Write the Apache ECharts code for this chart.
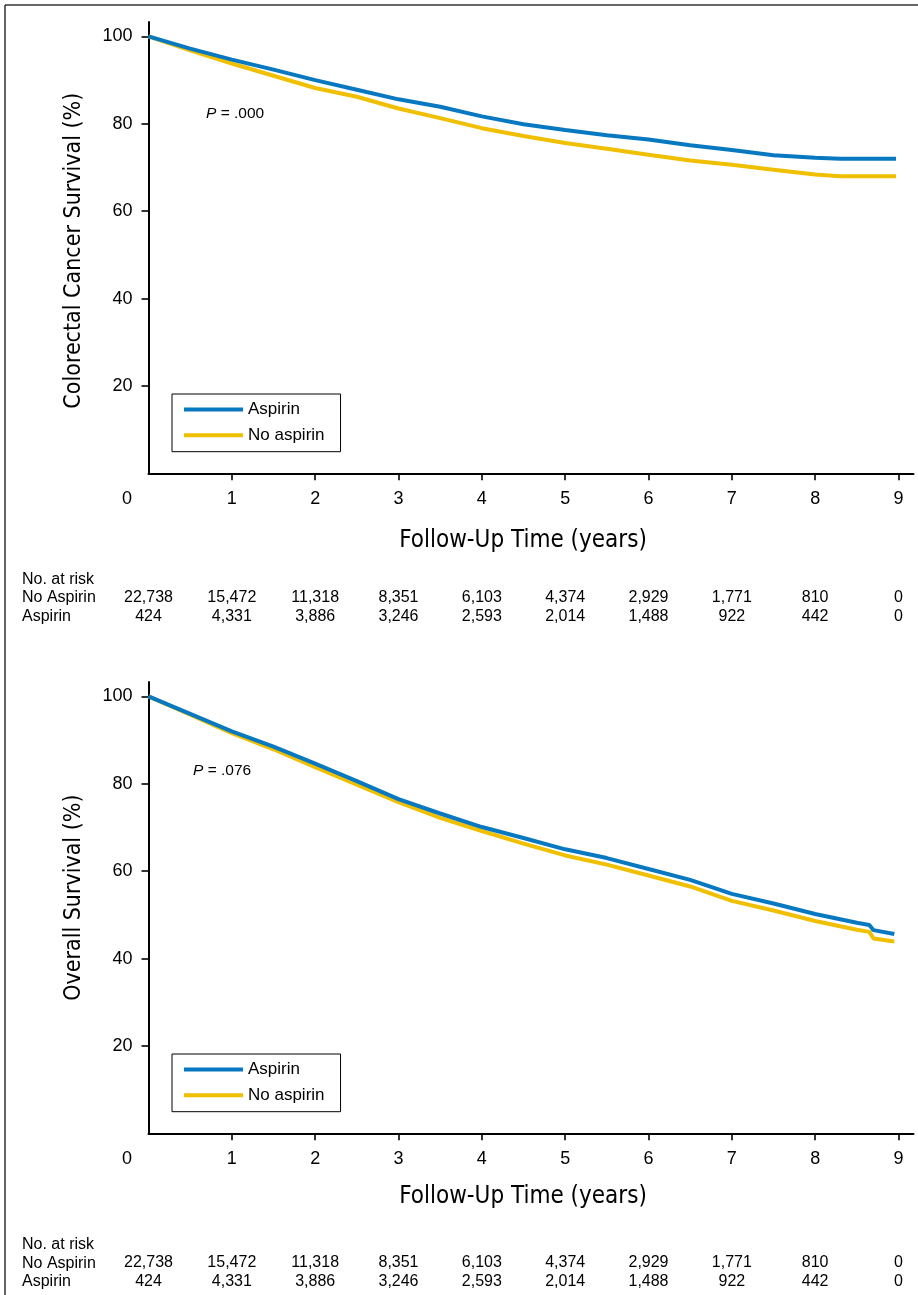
<!DOCTYPE html>
<html>
<head>
<meta charset="utf-8">
<script src="https://cdn.jsdelivr.net/npm/echarts@6/dist/echarts.min.js"></script>
<style>
html,body{margin:0;padding:0;background:#fff;}
#chart{width:918px;height:1295px;}
</style>
</head>
<body>
<div id="chart"></div>
<script>
// ---- Data ----
const crcTimes     = [0, 0.5, 1, 1.5, 2, 2.5, 3, 3.5, 4, 4.5, 5, 5.5, 6, 6.5, 7, 7.5, 8, 8.3, 8.97];
const crcAspirin   = [100, 97.2, 94.7, 92.4, 90.0, 87.8, 85.6, 83.9, 81.7, 79.9, 78.6, 77.4, 76.4, 75.1, 74.0, 72.8, 72.2, 72.0, 72.0];
const crcNoAspirin = [100, 96.8, 93.8, 91.0, 88.2, 86.2, 83.5, 81.3, 79.0, 77.2, 75.6, 74.3, 72.9, 71.6, 70.6, 69.5, 68.4, 68.0, 68.0];

const osTimes      = [0, 0.5, 1, 1.5, 2, 2.5, 3, 3.5, 4, 4.5, 5, 5.5, 6, 6.5, 7, 7.5, 8, 8.5, 8.65, 8.7, 8.95];
const osAspirin    = [100, 96.0, 92.0, 88.5, 84.6, 80.6, 76.5, 73.2, 70.1, 67.6, 65.0, 63.0, 60.5, 58.0, 54.8, 52.6, 50.2, 48.2, 47.7, 46.5, 45.6];
const osNoAspirin  = [100, 95.8, 91.6, 87.9, 83.8, 79.8, 75.8, 72.2, 69.2, 66.3, 63.6, 61.5, 59.0, 56.5, 53.2, 51.0, 48.6, 46.6, 46.1, 44.6, 43.9];

const xTickLabels  = [0, 1, 2, 3, 4, 5, 6, 7, 8, 9];
const xTicks       = [1, 2, 3, 4, 5, 6, 7, 8, 9];
const yTicks       = [20, 40, 60, 80, 100];

const riskNoAspirin = ['22,738', '15,472', '11,318', '8,351', '6,103', '4,374', '2,929', '1,771', '810', '0'];
const riskAspirin   = ['424', '4,331', '3,886', '3,246', '2,593', '2,014', '1,488', '922', '442', '0'];

const panelTitles = ['Colorectal Cancer Survival (%)', 'Overall Survival (%)'];
const pValues = ['.000', '.076'];
const seriesNames = ['Aspirin', 'No aspirin'];

// ---- Styles ----
const SANS = "'Liberation Sans', Arial, Helvetica, sans-serif";
const NARROW = "'Liberation Sans Narrow', 'Arial Narrow', 'DejaVu Sans Condensed', sans-serif";
const BLUE = '#0879c1';
const YELLOW = '#efbf00';
const X_MAX = 9.18, Y_MAX = 103.3;

const chart = echarts.init(document.getElementById('chart'), null, {renderer: 'canvas'});

const grids = [
  {left: 148.5, top: 22, width: 765, height: 451.3},
  {left: 148.5, top: 682, width: 765, height: 451.3}
];
const xNameGap = [55, 51];
const yNamePadding = [[0, 6, 0, 0], [0, 0, 0, 20]];
const riskOffsets = [[124.7, 143.2], [129.7, 148.2]];
const rowLabelTops = [[572, 590, 608.5], [1237, 1255.5, 1273.5]];
const pPos = [[206, 106], [193, 763]];
const legendTops = [394, 1054];

const xAxes = [], yAxes = [], series = [], legends = [], titles = [], graphics = [];
const axisLineStyle = {color: '#000', width: 2};

[0, 1].forEach(g => {
  xAxes.push({
    type: 'value', gridIndex: g, min: 0, max: X_MAX,
    axisLine: {show: true, onZero: false, lineStyle: axisLineStyle},
    axisTick: {show: true, length: 7, customValues: xTicks, lineStyle: {color: '#000', width: 1.6}},
    axisLabel: {
      customValues: xTickLabels, margin: 17, fontSize: 18, color: '#000', fontFamily: SANS,
      formatter: v => v === 0 ? '{z|0}' : String(v),
      rich: {z: {padding: [0, 43, 0, 0], fontSize: 18, color: '#000', fontFamily: SANS}}
    },
    splitLine: {show: false},
    name: 'Follow-Up Time (years)', nameLocation: 'middle', nameGap: xNameGap[g],
    nameTextStyle: {fontSize: 24, fontFamily: NARROW, color: '#000', padding: [0, 16, 0, 0]}
  });
  // risk table rows as offset axes sharing the same time scale
  [riskNoAspirin, riskAspirin].forEach((arr, r) => {
    xAxes.push({
      type: 'value', gridIndex: g, min: 0, max: X_MAX, position: 'bottom', offset: riskOffsets[g][r],
      axisLine: {show: false}, axisTick: {show: false}, splitLine: {show: false},
      axisLabel: {
        customValues: xTickLabels, margin: 0, verticalAlign: 'middle', fontSize: 16,
        color: '#000', fontFamily: SANS, formatter: v => arr[Math.round(v)]
      }
    });
  });
  yAxes.push({
    type: 'value', gridIndex: g, min: 0, max: Y_MAX,
    axisLine: {show: true, lineStyle: axisLineStyle},
    axisTick: {show: true, length: 7, customValues: yTicks, lineStyle: {color: '#000', width: 1.6}},
    axisLabel: {customValues: yTicks, margin: 16, fontSize: 18, color: '#000', fontFamily: SANS},
    splitLine: {show: false},
    name: panelTitles[g], nameLocation: 'middle', nameGap: 63,
    nameTextStyle: {fontSize: 23, fontFamily: NARROW, color: '#000', padding: yNamePadding[g]}
  });
  const times = g === 0 ? crcTimes : osTimes;
  const asp = g === 0 ? crcAspirin : osAspirin;
  const noAsp = g === 0 ? crcNoAspirin : osNoAspirin;
  const xi = g * 3;
  series.push({
    name: seriesNames[1], type: 'line', xAxisIndex: xi, yAxisIndex: g,
    data: times.map((t, i) => [t, noAsp[i]]), symbol: 'none', showSymbol: false,
    lineStyle: {color: YELLOW, width: 4}, itemStyle: {color: YELLOW}, z: 2, animation: false
  });
  series.push({
    name: seriesNames[0], type: 'line', xAxisIndex: xi, yAxisIndex: g,
    data: times.map((t, i) => [t, asp[i]]), symbol: 'none', showSymbol: false,
    lineStyle: {color: BLUE, width: 4}, itemStyle: {color: BLUE}, z: 3, animation: false
  });
  legends.push({
    data: seriesNames, orient: 'vertical', left: 172, top: legendTops[g],
    icon: 'rect', itemWidth: 59, itemHeight: 4, itemGap: 8.7,
    padding: [7, 16, 8, 12], borderColor: '#000', borderWidth: 1, backgroundColor: '#fff',
    textStyle: {fontSize: 17, fontFamily: SANS, color: '#000', lineHeight: 16},
    selectedMode: false
  });
  titles.push({
    text: '{i|P} = ' + pValues[g], left: pPos[g][0], top: pPos[g][1], padding: 0,
    textStyle: {fontSize: 15.5, fontWeight: 'normal', fontFamily: SANS, color: '#000',
      rich: {i: {fontStyle: 'italic', fontSize: 15.5, fontFamily: SANS, color: '#000'}}}
  });
  ['No. at risk', 'No Aspirin', 'Aspirin'].forEach((txt, r) => {
    graphics.push({
      type: 'text', left: 22, top: rowLabelTops[g][r],
      style: {text: txt, font: '16px ' + SANS, fill: '#000'}
    });
  });
});

graphics.push({type: 'line', shape: {x1: 5, y1: 5, x2: 918, y2: 5}, style: {stroke: '#333', lineWidth: 1.5}});
graphics.push({type: 'line', shape: {x1: 5, y1: 5, x2: 5, y2: 1295}, style: {stroke: '#333', lineWidth: 1.5}});

chart.setOption({
  animation: false,
  backgroundColor: '#fff',
  title: titles,
  grid: grids,
  xAxis: xAxes,
  yAxis: yAxes,
  legend: legends,
  series: series,
  graphic: graphics
});
</script>
</body>
</html>
